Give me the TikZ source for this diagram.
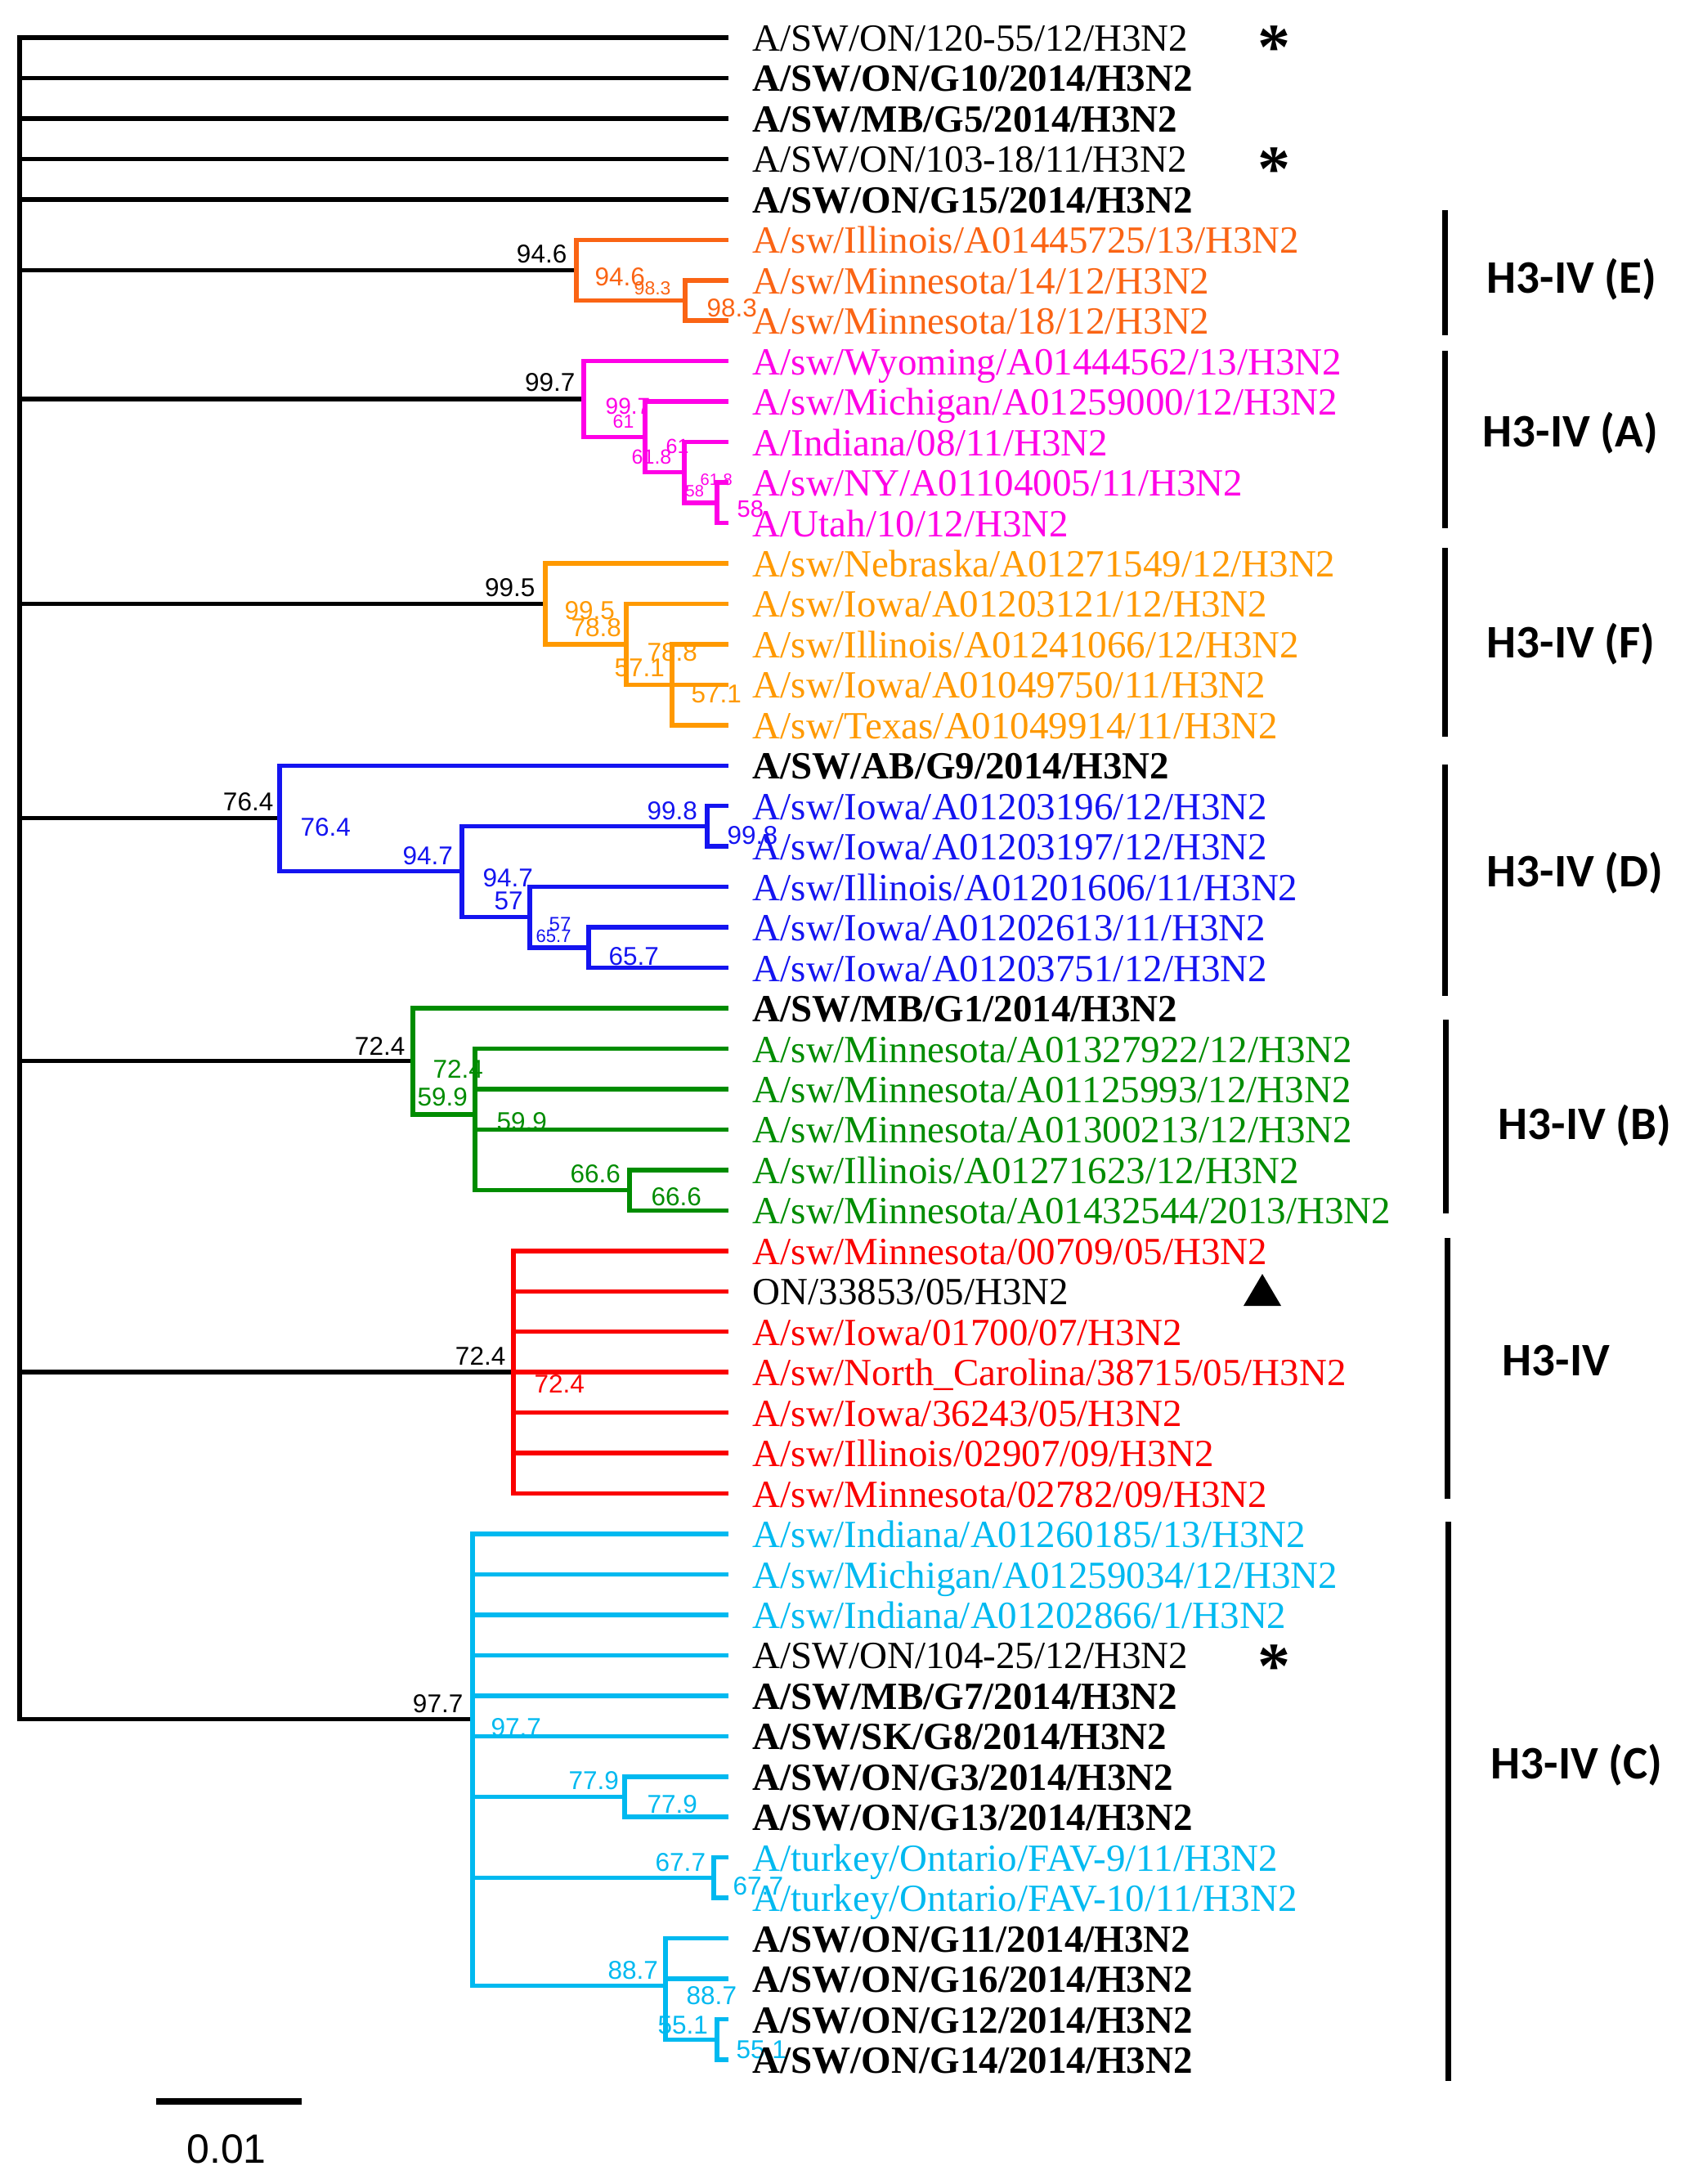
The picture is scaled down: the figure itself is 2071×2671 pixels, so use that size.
\documentclass[tikz,border=0pt]{standalone}
\usepackage{fontspec}
\setmainfont{Liberation Serif}
\newfontfamily\bsfont{Liberation Sans}
\newfontfamily\cladefont{Carlito}
\definecolor{cE}{RGB}{250,100,20}
\definecolor{cA}{RGB}{255,0,230}
\definecolor{cF}{RGB}{255,153,0}
\definecolor{cD}{RGB}{20,20,240}
\definecolor{cB}{RGB}{0,140,0}
\definecolor{cR}{RGB}{250,0,0}
\definecolor{cC}{RGB}{0,185,240}
\begin{document}
\begin{tikzpicture}[x=0.1mm,y=-0.1mm,
  br/.style={line width=0.55mm, line cap=rect, line join=miter},
  bar/.style={line width=0.7mm},
  lf/.style={anchor=base west, inner sep=0pt, xshift=3.2mm, yshift=-1.65mm, font=\fontsize{4.7mm}{5mm}\selectfont},
  lfb/.style={lf, font=\fontsize{4.7mm}{5mm}\selectfont\bfseries},
  bsz/.style={inner sep=0pt, font=\bsfont\fontsize{#1mm}{#1mm}\selectfont},
  bk/.style={bsz=3.15, anchor=east},
  bc/.style={bsz=3.15, anchor=west},
  cl/.style={anchor=west, inner sep=0pt, font=\cladefont\bfseries\fontsize{5.7mm}{6mm}\selectfont},
  ast/.style={anchor=base, inner sep=0pt, font=\bfseries\fontsize{8mm}{8mm}\selectfont}
]
\useasboundingbox (0,0) rectangle (2071,2671);

% ---------- coordinates ----------
\coordinate (R) at (24,46);
\coordinate (t0) at (888,46.0);
\coordinate (t1) at (888,95.5);
\coordinate (t2) at (888,144.9);
\coordinate (t3) at (888,194.4);
\coordinate (t4) at (888,243.8);
\coordinate (t5) at (888,293.3);
\coordinate (t6) at (888,342.8);
\coordinate (t7) at (888,392.2);
\coordinate (t8) at (888,441.7);
\coordinate (t9) at (888,491.1);
\coordinate (t10) at (888,540.6);
\coordinate (t11) at (888,590.1);
\coordinate (t12) at (888,639.5);
\coordinate (t13) at (888,689.0);
\coordinate (t14) at (888,738.4);
\coordinate (t15) at (888,787.9);
\coordinate (t16) at (888,837.4);
\coordinate (t17) at (888,886.8);
\coordinate (t18) at (888,936.3);
\coordinate (t19) at (888,985.7);
\coordinate (t20) at (888,1035.2);
\coordinate (t21) at (888,1084.7);
\coordinate (t22) at (888,1134.1);
\coordinate (t23) at (888,1183.6);
\coordinate (t24) at (888,1233.0);
\coordinate (t25) at (888,1282.5);
\coordinate (t26) at (888,1332.0);
\coordinate (t27) at (888,1381.4);
\coordinate (t28) at (888,1430.9);
\coordinate (t29) at (888,1480.3);
\coordinate (t30) at (888,1529.8);
\coordinate (t31) at (888,1579.3);
\coordinate (t32) at (888,1628.7);
\coordinate (t33) at (888,1678.2);
\coordinate (t34) at (888,1727.6);
\coordinate (t35) at (888,1777.1);
\coordinate (t36) at (888,1826.6);
\coordinate (t37) at (888,1876.0);
\coordinate (t38) at (888,1925.5);
\coordinate (t39) at (888,1974.9);
\coordinate (t40) at (888,2024.4);
\coordinate (t41) at (888,2073.9);
\coordinate (t42) at (888,2123.3);
\coordinate (t43) at (888,2172.8);
\coordinate (t44) at (888,2222.2);
\coordinate (t45) at (888,2271.7);
\coordinate (t46) at (888,2321.2);
\coordinate (t47) at (888,2370.6);
\coordinate (t48) at (888,2420.1);
\coordinate (t49) at (888,2469.5);
\coordinate (t50) at (888,2519.0);

\coordinate (nE) at (705,330.6);
\coordinate (nE2) at (838,367.5);
\coordinate (nA) at (714,488);
\coordinate (nA2) at (789,534.6);
\coordinate (nA3) at (837,577.7);
\coordinate (nA4) at (877,614.8);
\coordinate (nF) at (667,738.4);
\coordinate (nF2) at (766,787.9);
\coordinate (nF3) at (822,837.4);
\coordinate (nD) at (342,1000.6);
\coordinate (nD2) at (565,1065.7);
\coordinate (nD3) at (865,1010.5);
\coordinate (nD4) at (648,1121.4);
\coordinate (nD5) at (720,1158.9);
\coordinate (nB) at (505,1297.7);
\coordinate (nB2) at (581,1362.9);
\coordinate (nB3) at (770,1455.6);
\coordinate (nR) at (628,1678.2);
\coordinate (nC) at (578,2102.4);
\coordinate (nC2) at (764,2197.5);
\coordinate (nC3) at (873,2296.5);
\coordinate (nC4) at (814,2428.3);
\coordinate (nC5) at (877,2494.3);

% ---------- support values ----------
\node[bk] (k1) at (694,311) {94.6};
\node[bk] (k2) at (704,468) {99.7};
\node[bk] (k3) at (655,719) {99.5};
\node[bk] (k4) at (335,981) {76.4};
\node[bk] (k5) at (496,1279) {72.4};
\node[bk] (k6) at (619,1658) {72.4};
\node[bk] (k7) at (567,2084) {97.7};

\node[bc, text=cE] (e1) at (727,339) {94.6};
\node[bsz=2.3, anchor=west, text=cE] (e2) at (775,353) {98.3};
\node[bc, text=cE] (e3) at (864,377) {98.3};

\node[bsz=2.8, anchor=west, text=cA] (a1) at (740,497) {99.7};
\node[bsz=2.3, anchor=west, text=cA] (a2) at (749,516) {61};
\node[bsz=2.5, anchor=west, text=cA] (a3) at (772,559) {61.8};
\node[bsz=2.5, anchor=west, text=cA] (a4) at (814,546) {61};
\node[bsz=2.0, anchor=west, text=cA] (a5) at (856,587) {61.8};
\node[bsz=2.0, anchor=west, text=cA] (a6) at (838,601) {58};
\node[bsz=2.9, anchor=west, text=cA] (a7) at (901,623) {58};

\node[bc, text=cF] (f1) at (690,747) {99.5};
\node[bc, text=cF] (f2) at (698,768) {78.8};
\node[bc, text=cF] (f3) at (791,798) {78.8};
\node[bc, text=cF] (f4) at (751,817) {57.1};
\node[bc, text=cF] (f5) at (845,849) {57.1};

\node[bc, text=cD] (d1) at (367,1012) {76.4};
\node[bc, text=cD] (d2) at (492,1047) {94.7};
\node[bc, text=cD] (d3) at (791,992) {99.8};
\node[bc, text=cD] (d4) at (889,1022) {99.8};
\node[bc, text=cD] (d5) at (590,1074) {94.7};
\node[bc, text=cD] (d6) at (604,1102) {57};
\node[bsz=2.4, anchor=west, text=cD] (d7) at (671,1130) {57};
\node[bsz=2.2, anchor=west, text=cD] (d8) at (655,1145) {65.7};
\node[bc, text=cD] (d9) at (744,1170) {65.7};

\node[bc, text=cB] (g1) at (529,1307) {72.4};
\node[bc, text=cB] (g2) at (510,1342) {59.9};
\node[bc, text=cB] (g3) at (607,1372) {59.9};
\node[bc, text=cB] (g4) at (697,1436) {66.6};
\node[bc, text=cB] (g5) at (796,1464) {66.6};

\node[bc, text=cR] (r1) at (653,1692) {72.4};

\node[bc, text=cC] (c1) at (600,2113) {97.7};
\node[bc, text=cC] (c2) at (695,2178) {77.9};
\node[bc, text=cC] (c3) at (791,2207) {77.9};
\node[bc, text=cC] (c4) at (801,2278) {67.7};
\node[bc, text=cC] (c5) at (896,2307) {67.7};
\node[bc, text=cC] (c6) at (743,2410) {88.7};
\node[bc, text=cC] (c7) at (839,2441) {88.7};
\node[bc, text=cC] (c8) at (804,2477) {55.1};
\node[bc, text=cC] (c9) at (900,2507) {55.1};

% ---------- branches ----------
\draw[br] (R) |- (t0) (R) |- (t1) (R) |- (t2) (R) |- (t3) (R) |- (t4)
  (R) |- (nE) (R) |- (nA) (R) |- (nF) (R) |- (nD) (R) |- (nB) (R) |- (nR) (R) |- (nC);
\draw[br, draw=cE] (nE) |- (t5) (nE) |- (nE2) (nE2) |- (t6) (nE2) |- (t7);
\draw[br, draw=cA] (nA) |- (t8) (nA) |- (nA2) (nA2) |- (t9) (nA2) |- (nA3)
  (nA3) |- (t10) (nA3) |- (nA4) (nA4) |- (t11) (nA4) |- (t12);
\draw[br, draw=cF] (nF) |- (t13) (nF) |- (nF2) (nF2) |- (t14) (nF2) |- (nF3)
  (nF3) |- (t15) (nF3) |- (t16) (nF3) |- (t17);
\draw[br, draw=cD] (nD) |- (t18) (nD) |- (nD2) (nD2) |- (nD3) (nD2) |- (nD4)
  (nD3) |- (t19) (nD3) |- (t20) (nD4) |- (t21) (nD4) |- (nD5) (nD5) |- (t22) (nD5) |- (t23);
\draw[br, draw=cB] (nB) |- (t24) (nB) |- (nB2) (nB2) |- (t25) (nB2) |- (t26) (nB2) |- (t27)
  (nB2) |- (nB3) (nB3) |- (t28) (nB3) |- (t29);
\draw[br, draw=cR] (nR) |- (t30) (nR) |- (t31) (nR) |- (t32) (nR) |- (t33) (nR) |- (t34)
  (nR) |- (t35) (nR) |- (t36);
\draw[br, draw=cC] (nC) |- (t37) (nC) |- (t38) (nC) |- (t39) (nC) |- (t40) (nC) |- (t41) (nC) |- (t42)
  (nC) |- (nC2) (nC) |- (nC3) (nC) |- (nC4)
  (nC2) |- (t43) (nC2) |- (t44) (nC3) |- (t45) (nC3) |- (t46)
  (nC4) |- (t47) (nC4) |- (t48) (nC4) |- (nC5) (nC5) |- (t49) (nC5) |- (t50);

% ---------- leaf labels ----------
\node[lf] (L0) at (t0) {A/SW/ON/120-55/12/H3N2};
\node[lfb] (L1) at (t1) {A/SW/ON/G10/2014/H3N2};
\node[lfb] (L2) at (t2) {A/SW/MB/G5/2014/H3N2};
\node[lf] (L3) at (t3) {A/SW/ON/103-18/11/H3N2};
\node[lfb] (L4) at (t4) {A/SW/ON/G15/2014/H3N2};
\node[lf, text=cE] (L5) at (t5) {A/sw/Illinois/A01445725/13/H3N2};
\node[lf, text=cE] (L6) at (t6) {A/sw/Minnesota/14/12/H3N2};
\node[lf, text=cE] (L7) at (t7) {A/sw/Minnesota/18/12/H3N2};
\node[lf, text=cA] (L8) at (t8) {A/sw/Wyoming/A01444562/13/H3N2};
\node[lf, text=cA] (L9) at (t9) {A/sw/Michigan/A01259000/12/H3N2};
\node[lf, text=cA] (L10) at (t10) {A/Indiana/08/11/H3N2};
\node[lf, text=cA] (L11) at (t11) {A/sw/NY/A01104005/11/H3N2};
\node[lf, text=cA] (L12) at (t12) {A/Utah/10/12/H3N2};
\node[lf, text=cF] (L13) at (t13) {A/sw/Nebraska/A01271549/12/H3N2};
\node[lf, text=cF] (L14) at (t14) {A/sw/Iowa/A01203121/12/H3N2};
\node[lf, text=cF] (L15) at (t15) {A/sw/Illinois/A01241066/12/H3N2};
\node[lf, text=cF] (L16) at (t16) {A/sw/Iowa/A01049750/11/H3N2};
\node[lf, text=cF] (L17) at (t17) {A/sw/Texas/A01049914/11/H3N2};
\node[lfb] (L18) at (t18) {A/SW/AB/G9/2014/H3N2};
\node[lf, text=cD] (L19) at (t19) {A/sw/Iowa/A01203196/12/H3N2};
\node[lf, text=cD] (L20) at (t20) {A/sw/Iowa/A01203197/12/H3N2};
\node[lf, text=cD] (L21) at (t21) {A/sw/Illinois/A01201606/11/H3N2};
\node[lf, text=cD] (L22) at (t22) {A/sw/Iowa/A01202613/11/H3N2};
\node[lf, text=cD] (L23) at (t23) {A/sw/Iowa/A01203751/12/H3N2};
\node[lfb] (L24) at (t24) {A/SW/MB/G1/2014/H3N2};
\node[lf, text=cB] (L25) at (t25) {A/sw/Minnesota/A01327922/12/H3N2};
\node[lf, text=cB] (L26) at (t26) {A/sw/Minnesota/A01125993/12/H3N2};
\node[lf, text=cB] (L27) at (t27) {A/sw/Minnesota/A01300213/12/H3N2};
\node[lf, text=cB] (L28) at (t28) {A/sw/Illinois/A01271623/12/H3N2};
\node[lf, text=cB] (L29) at (t29) {A/sw/Minnesota/A01432544/2013/H3N2};
\node[lf, text=cR] (L30) at (t30) {A/sw/Minnesota/00709/05/H3N2};
\node[lf] (L31) at (t31) {ON/33853/05/H3N2};
\node[lf, text=cR] (L32) at (t32) {A/sw/Iowa/01700/07/H3N2};
\node[lf, text=cR] (L33) at (t33) {A/sw/North\_Carolina/38715/05/H3N2};
\node[lf, text=cR] (L34) at (t34) {A/sw/Iowa/36243/05/H3N2};
\node[lf, text=cR] (L35) at (t35) {A/sw/Illinois/02907/09/H3N2};
\node[lf, text=cR] (L36) at (t36) {A/sw/Minnesota/02782/09/H3N2};
\node[lf, text=cC] (L37) at (t37) {A/sw/Indiana/A01260185/13/H3N2};
\node[lf, text=cC] (L38) at (t38) {A/sw/Michigan/A01259034/12/H3N2};
\node[lf, text=cC] (L39) at (t39) {A/sw/Indiana/A01202866/1/H3N2};
\node[lf] (L40) at (t40) {A/SW/ON/104-25/12/H3N2};
\node[lfb] (L41) at (t41) {A/SW/MB/G7/2014/H3N2};
\node[lfb] (L42) at (t42) {A/SW/SK/G8/2014/H3N2};
\node[lfb] (L43) at (t43) {A/SW/ON/G3/2014/H3N2};
\node[lfb] (L44) at (t44) {A/SW/ON/G13/2014/H3N2};
\node[lf, text=cC] (L45) at (t45) {A/turkey/Ontario/FAV-9/11/H3N2};
\node[lf, text=cC] (L46) at (t46) {A/turkey/Ontario/FAV-10/11/H3N2};
\node[lfb] (L47) at (t47) {A/SW/ON/G11/2014/H3N2};
\node[lfb] (L48) at (t48) {A/SW/ON/G16/2014/H3N2};
\node[lfb] (L49) at (t49) {A/SW/ON/G12/2014/H3N2};
\node[lfb] (L50) at (t50) {A/SW/ON/G14/2014/H3N2};

% ---------- markers ----------
\node[ast] (s1) at (1558,85) {*};
\node[ast] (s2) at (1558,234) {*};
\node[ast] (s3) at (1558,2064) {*};
\fill (1521,1597) -- (1567,1597) -- (1544,1558) -- cycle;

% ---------- clade bars and names ----------
\draw[bar] (1767,257) -- (1767,410);
\draw[bar] (1767,429) -- (1767,646);
\draw[bar] (1767,670) -- (1767,901);
\draw[bar] (1767,935) -- (1767,1218);
\draw[bar] (1768,1247) -- (1768,1484);
\draw[bar] (1770,1514) -- (1770,1833);
\draw[bar] (1771,1861) -- (1771,2545);
\node[cl] (hE) at (1818,342) {H3-IV (E)};
\node[cl] (hA) at (1813,530) {H3-IV (A)};
\node[cl] (hF) at (1818,788) {H3-IV (F)};
\node[cl] (hD) at (1818,1068) {H3-IV (D)};
\node[cl] (hB) at (1832,1377) {H3-IV (B)};
\node[cl] (hH) at (1837,1664) {H3-IV};
\node[cl] (hC) at (1823,2159) {H3-IV (C)};

% ---------- scale bar ----------
\coordinate (sb1) at (191,2570);
\coordinate (sb2) at (369,2570);
\draw[line width=0.8mm] (sb1) -- (sb2);
\node[bsz=5.0] (sbl) at (277,2628) {0.01};
\end{tikzpicture}
\end{document}
